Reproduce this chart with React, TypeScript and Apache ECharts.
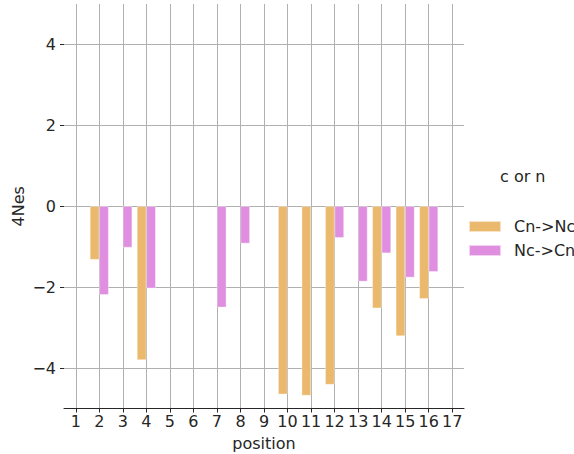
import React, { useEffect, useRef } from "react";
import * as echarts from "echarts";

// Positions along the sequence (category axis)
const positions = ["1", "2", "3", "4", "5", "6", "7", "8", "9", "10", "11", "12", "13", "14", "15", "16", "17"];

// 4Nes per position for each direction; null = no bar
const cnToNc: (number | null)[] = [null, -1.32, null, -3.8, null, null, null, null, null, -4.65, -4.68, -4.41, null, -2.52, -3.21, -2.29, null];
const ncToCn: (number | null)[] = [null, -2.19, -1.02, -2.03, null, null, -2.5, -0.92, null, null, null, -0.78, -1.86, -1.16, -1.76, -1.62, null];

const seriesNames = ["Cn->Nc", "Nc->Cn"];
const legendTitle = "c or n";
const yTicks = [-4, -2, 0, 2, 4];
const xTickValues = [1, 2, 3, 4, 5, 6, 7, 8, 9, 10, 11, 12, 13, 14, 15, 16, 17];

const FONT = "DejaVu Sans";
const FS = 16;
const TEXT = "#262626";
const GRID = "#b0b0b0";

export default function App() {
  const ref = useRef<HTMLDivElement>(null);

  useEffect(() => {
    if (!ref.current) return;
    const chart = echarts.init(ref.current, undefined, { renderer: "svg" });
    chart.setOption({
      animation: false,
      backgroundColor: "#ffffff",
      textStyle: { fontFamily: FONT },
      title: {
        text: legendTitle,
        left: 500,
        top: 168,
        padding: 0,
        textStyle: { fontFamily: FONT, fontSize: FS, fontWeight: "normal", color: TEXT },
      },
      legend: {
        orient: "vertical",
        left: 468,
        top: 217.5,
        padding: 0,
        itemWidth: 32,
        itemHeight: 11,
        itemGap: 6,
        icon: "rect",
        data: seriesNames,
        formatter: (name: string) => "{gap|}" + name,
        textStyle: {
          fontFamily: FONT,
          fontSize: FS,
          color: TEXT,
          lineHeight: 18,
          rich: { gap: { width: 8 } },
        },
      },
      grid: { left: 64, right: 110, top: 4, bottom: 45.5, containLabel: false, outerBoundsMode: "none" },
      xAxis: [
        {
          type: "category",
          data: positions,
          boundaryGap: true,
          name: "position",
          nameLocation: "middle",
          nameGap: 27,
          nameMoveOverlap: false,
          nameTextStyle: { fontFamily: FONT, fontSize: FS, color: TEXT },
          axisLine: { show: true, onZero: false, lineStyle: { color: TEXT, width: 1 } },
          axisTick: { show: true, alignWithLabel: true, length: 4, lineStyle: { color: TEXT } },
          axisLabel: { fontFamily: FONT, fontSize: FS, color: TEXT, margin: 5, interval: 0, hideOverlap: false },
          splitLine: { show: false },
          z: 3,
        },
        {
          // carries the vertical grid lines at category centres
          type: "value",
          position: "bottom",
          min: 0.5,
          max: 17.5,
          axisLine: { show: false, onZero: false },
          axisTick: { show: false, customValues: xTickValues },
          axisLabel: { show: false },
          splitLine: { show: true, lineStyle: { color: GRID, width: 1 } },
        },
      ],
      yAxis: {
        type: "value",
        min: -5,
        max: 5,
        name: "4Nes",
        nameLocation: "middle",
        nameGap: 38,
        nameMoveOverlap: false,
        nameTextStyle: { fontFamily: FONT, fontSize: FS, color: TEXT },
        axisLine: { show: false },
        axisTick: { show: true, length: 4, customValues: yTicks, lineStyle: { color: TEXT } },
        axisLabel: {
          fontFamily: FONT,
          fontSize: FS,
          color: TEXT,
          margin: 8,
          customValues: yTicks,
          formatter: (v: number) => (v < 0 ? "\u2212" + Math.abs(v) : String(v)),
        },
        splitLine: { show: true, lineStyle: { color: GRID, width: 1 } },
      },
      series: [
        {
          name: seriesNames[0],
          type: "bar",
          data: cnToNc,
          barWidth: "40%",
          barGap: "0%",
          itemStyle: { color: "#ebb96e", borderColor: "rgba(255,255,255,0.6)", borderWidth: 0.6 },
          z: 2,
        },
        {
          name: seriesNames[1],
          type: "bar",
          data: ncToCn,
          barWidth: "40%",
          barGap: "0%",
          itemStyle: { color: "#e08ee0", borderColor: "rgba(255,255,255,0.6)", borderWidth: 0.6 },
          z: 2,
        },
      ],
    });
    return () => chart.dispose();
  }, []);

  return (
    <div
      ref={ref}
      style={{ position: "fixed", left: 0, top: 0, width: 574, height: 454, background: "#fff" }}
    />
  );
}
